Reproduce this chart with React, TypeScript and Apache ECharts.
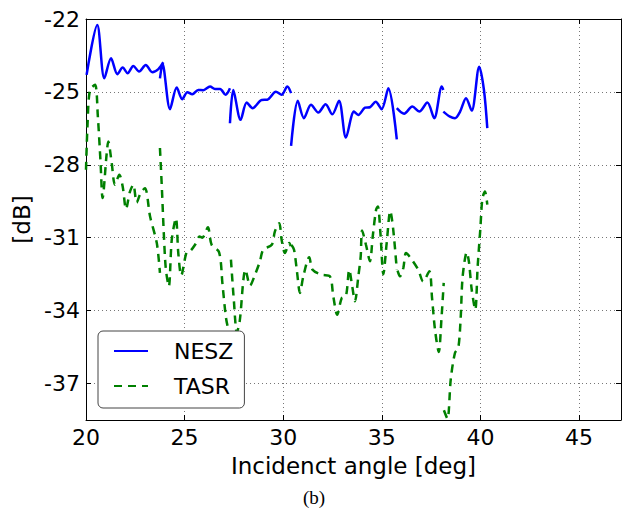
import React, { useEffect, useRef } from "react";
import * as echarts from "echarts";

const xTicks = [20, 25, 30, 35, 40, 45];
const yTicks = [-37, -34, -31, -28, -25, -22];
const xMin = 20;
const xMax = 47.13;
const yMin = -38.5;
const yMax = -22;

const neszSeg1: [number, number][] = [
  [20.03, -24.3], [20.57, -22.25], [20.93, -24.44], [21.27, -23.62], [21.59, -24.27],
  [21.86, -24.0], [22.11, -24.23], [22.4, -23.93], [22.69, -24.16], [23.03, -23.89],
  [23.36, -24.19], [23.67, -24.06], [23.92, -23.78],
];
const neszSeg2: [number, number][] = [
  [23.75, -24.44], [23.88, -23.85], [24.26, -25.71], [24.6, -24.82], [24.88, -25.3],
  [25.14, -25.01], [25.39, -25.1], [25.69, -24.92], [25.95, -24.93], [26.29, -24.78],
  [26.54, -24.88], [26.8, -24.88], [27.08, -25.12], [27.3, -24.85],
];
const neszSeg3: [number, number][] = [
  [27.3, -26.29], [27.47, -24.92], [27.84, -26.15], [28.15, -25.44], [28.45, -25.67],
  [28.91, -25.33], [29.19, -25.32], [29.63, -24.99], [29.92, -25.12], [30.21, -24.78],
  [30.4, -25.05],
];
const neszSeg4: [number, number][] = [
  [30.4, -27.22], [30.74, -25.36], [31.05, -26.08], [31.41, -25.53], [31.78, -25.85],
  [32.15, -25.51], [32.49, -25.92], [32.83, -25.36], [33.18, -26.88], [33.59, -25.81],
  [33.81, -25.95], [34.15, -25.65], [34.4, -25.63], [34.69, -25.4], [34.99, -25.71],
  [35.33, -24.85], [35.76, -26.95],
];
const neszSeg5: [number, number][] = [
  [35.76, -25.67], [36.13, -25.9], [36.55, -25.6], [36.9, -25.81], [37.31, -25.44],
  [37.66, -26.08], [38.04, -24.78], [38.12, -24.92],
];
const neszSeg6: [number, number][] = [
  [38.12, -25.81], [38.46, -26.02], [38.71, -26.08], [38.97, -25.81], [39.27, -25.26],
  [39.56, -25.77], [39.94, -23.96], [40.18, -24.92], [40.35, -26.49],
];

const tasrSeg1: [number, number][] = [
  [20.0, -28.2], [20.08, -26.3], [20.2, -24.92], [20.46, -24.71], [20.6, -26.0],
  [20.74, -27.93], [20.84, -29.37], [21.05, -27.52], [21.13, -27.04], [21.3, -27.9],
  [21.47, -28.82], [21.69, -28.41], [21.86, -28.89], [22.03, -29.82], [22.23, -29.1],
  [22.4, -28.82], [22.57, -29.55], [22.77, -29.16], [22.99, -28.96], [23.25, -30.13],
  [23.59, -31.22], [23.75, -32.45],
];
const tasrSeg2: [number, number][] = [
  [23.75, -27.31], [23.85, -29.0], [23.95, -30.9], [24.05, -32.3], [24.2, -33.0],
  [24.35, -31.08], [24.56, -30.2], [24.68, -31.63], [24.83, -32.55], [25.1, -31.6],
  [25.27, -31.56], [25.53, -31.29], [25.76, -30.95], [25.9, -31.0], [26.18, -30.57],
  [26.37, -31.29], [26.75, -31.6], [26.92, -32.9], [27.1, -34.3], [27.25, -34.9],
];
const tasrSeg3: [number, number][] = [
  [27.35, -31.9], [27.5, -33.6], [27.65, -34.9], [27.8, -34.4], [27.98, -32.73],
  [28.08, -32.32], [28.32, -32.97], [28.57, -32.52], [28.82, -31.97], [28.99, -31.49],
  [29.42, -31.29], [29.58, -30.74], [29.8, -30.4], [29.92, -31.08], [30.09, -31.63],
  [30.31, -31.22], [30.38, -31.35],
];
const tasrSeg4: [number, number][] = [
  [30.42, -31.3], [30.55, -31.49], [30.7, -32.4], [30.85, -33.27], [31.02, -32.59],
  [31.32, -31.8], [31.49, -32.32], [31.95, -32.52], [32.37, -32.59], [32.54, -33.41],
  [32.74, -34.17], [32.97, -33.48], [33.18, -33.41], [33.35, -32.32], [33.5, -33.0],
  [33.64, -33.61], [33.81, -32.59], [33.93, -31.77], [34.0, -30.7], [34.2, -31.3],
  [34.4, -31.97], [34.54, -30.95], [34.71, -29.85], [34.8, -29.71], [34.93, -30.81],
  [35.08, -32.5], [35.25, -31.2], [35.43, -29.9], [35.58, -30.67], [35.76, -32.32],
];
const tasrSeg5: [number, number][] = [
  [35.8, -32.35], [35.92, -32.59], [36.09, -32.25], [36.23, -31.63], [36.52, -31.9],
  [36.85, -32.32], [37.1, -32.8], [37.41, -32.38], [37.55, -33.5], [37.7, -34.8],
  [37.89, -35.7], [38.02, -34.4], [38.14, -32.86],
];
const tasrSeg6: [number, number][] = [
  [38.15, -38.1], [38.33, -38.45], [38.5, -36.8], [38.71, -35.74], [38.88, -35.53],
  [39.0, -34.3], [39.1, -32.6], [39.31, -31.6], [39.42, -32.0], [39.56, -33.14],
  [39.74, -33.96], [39.86, -32.2], [40.0, -30.6], [40.1, -29.4], [40.23, -29.1],
  [40.35, -29.64],
];

const neszSegments = [neszSeg1, neszSeg2, neszSeg3, neszSeg4, neszSeg5, neszSeg6];
const tasrSegments = [tasrSeg1, tasrSeg2, tasrSeg3, tasrSeg4, tasrSeg5, tasrSeg6];

function joinSegments(segs: [number, number][][]) {
  const out: (number | null)[][] = [];
  segs.forEach((s, i) => {
    if (i > 0) out.push([s[0][0], null]);
    s.forEach((p) => out.push([p[0], p[1]]));
  });
  return out;
}

const FONT = "DejaVu Sans";

export default function App() {
  const ref = useRef<HTMLDivElement>(null);
  useEffect(() => {
    if (!ref.current) return;
    const chart = echarts.init(ref.current, undefined, { renderer: "svg" });
    const tickCommon = { show: true, inside: true, length: 5, lineStyle: { color: "#000", width: 1 } };
    chart.setOption({
      animation: false,
      backgroundColor: "#fff",
      grid: { left: 86, top: 19, right: 1, bottom: 92, containLabel: false },
      legend: {
        orient: "vertical",
        left: 98,
        top: 331,
        padding: [9, 11, 11, 15],
        itemWidth: 34,
        itemHeight: 22,
        itemGap: 13,
        borderColor: "#444",
        borderWidth: 1,
        borderRadius: 5,
        backgroundColor: "#fff",
        itemStyle: { opacity: 0, borderWidth: 0 },
        textStyle: { fontSize: 22, fontFamily: FONT, color: "#000", padding: [0, 0, 0, 21] },
        data: ["NESZ", "TASR"],
      },
      xAxis: [
        {
          type: "value",
          min: xMin,
          max: xMax,
          position: "bottom",
          name: "Incidenct angle [deg]",
          nameLocation: "middle",
          nameGap: 34,
          nameTextStyle: { fontSize: 23, fontFamily: FONT, color: "#000" },
          axisLine: { show: true, onZero: false, lineStyle: { color: "#000", width: 1 } },
          axisTick: { ...tickCommon, customValues: xTicks },
          axisLabel: { customValues: xTicks, fontSize: 22, fontFamily: FONT, color: "#000", margin: 6 },
          splitLine: { show: true, lineStyle: { color: "#777", width: 1, type: [1, 3] } },
        },
        {
          type: "value",
          min: xMin,
          max: xMax,
          position: "top",
          axisLine: { show: true, onZero: false, lineStyle: { color: "#000", width: 1 } },
          axisTick: { ...tickCommon, customValues: xTicks },
          axisLabel: { show: false },
          splitLine: { show: false },
        },
      ],
      yAxis: [
        {
          type: "value",
          min: yMin,
          max: yMax,
          position: "left",
          name: "[dB]",
          nameLocation: "middle",
          nameGap: 44,
          nameTextStyle: { fontSize: 23, fontFamily: FONT, color: "#000" },
          axisLine: { show: true, onZero: false, lineStyle: { color: "#000", width: 1 } },
          axisTick: { ...tickCommon, customValues: yTicks },
          axisLabel: { customValues: yTicks, fontSize: 22, fontFamily: FONT, color: "#000", margin: 6 },
          splitLine: { show: true, lineStyle: { color: "#777", width: 1, type: [1, 3] } },
        },
        {
          type: "value",
          min: yMin,
          max: yMax,
          position: "right",
          axisLine: { show: true, onZero: false, lineStyle: { color: "#000", width: 1 } },
          axisTick: { ...tickCommon, customValues: yTicks },
          axisLabel: { show: false },
          splitLine: { show: false },
        },
      ],
      series: [
        {
          name: "NESZ",
          type: "line",
          xAxisIndex: 0,
          yAxisIndex: 0,
          data: joinSegments(neszSegments),
          symbol: "none",
          smooth: 0.3,
          connectNulls: false,
          lineStyle: { color: "#0000ff", width: 2.5 },
          itemStyle: { color: "#0000ff" },
        },
        {
          name: "TASR",
          type: "line",
          xAxisIndex: 0,
          yAxisIndex: 0,
          data: joinSegments(tasrSegments),
          symbol: "none",
          smooth: 0.3,
          connectNulls: false,
          lineStyle: { color: "#008000", width: 2.5, type: [8, 6] },
          itemStyle: { color: "#008000" },
        },
      ],
      graphic: [
        {
          type: "text",
          left: 303,
          top: 488,
          style: { text: "(b)", fontSize: 19, fontFamily: "Liberation Serif", fill: "#000" },
        },
      ],
    });
    return () => chart.dispose();
  }, []);
  return (
    <div
      ref={ref}
      style={{ position: "fixed", left: 0, top: 0, width: 622, height: 512, background: "#fff" }}
    />
  );
}
